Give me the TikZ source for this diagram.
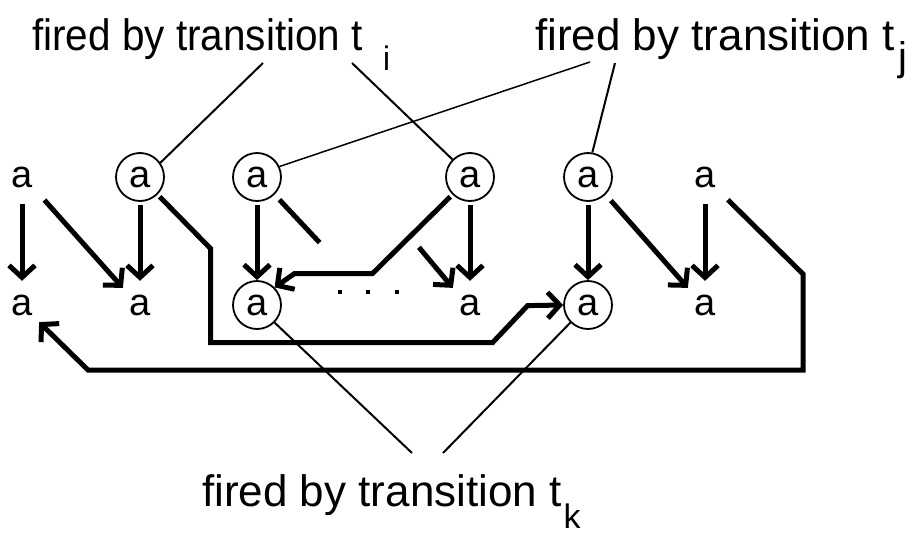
\documentclass[tikz,border=0pt]{standalone}
\usepackage{fontspec}
\setmainfont{Liberation Sans}
\usetikzlibrary{arrows.meta}

\tikzset{
  ringed/.style={circle, draw, line width=1.8pt, minimum size=48pt, inner sep=0pt,
                 font=\fontsize{38}{38}\selectfont},
  bare/.style={circle, minimum size=48pt, inner sep=0pt, font=\fontsize{38}{38}\selectfont},
  fire/.style={line width=5pt, -{Straight Barb[length=12pt,width=26pt]}, shorten <=3pt},
  wire/.style={line width=5pt},
  note/.style={line width=2pt},
  caption/.style={anchor=base west, inner sep=0pt, transform shape, font=\fontsize{44}{44}\selectfont}
}

\begin{document}
\begin{tikzpicture}[x=1pt, y=-1pt]
\useasboundingbox (0,0) rectangle (915,538);
% Captions
    \node[caption, xscale=0.92] (fi) at (32,50) {fired by transition t\hspace{22pt}\raisebox{-20pt}{\fontsize{34}{34}\selectfont i}};
    \node[caption] (fj) at (535,50) {fired by transition t\hspace{4pt}\raisebox{-20pt}{\fontsize{40}{40}\selectfont j}};
    \node[caption] (fk) at (202,506) {fired by transition t\hspace{2pt}\raisebox{-22pt}{\fontsize{34}{34}\selectfont k}};
    \coordinate (fi1) at (263,63);
    \coordinate (fi2) at (352,63);
    \coordinate (fj1) at (590,62);
    \coordinate (fj2) at (615,63);
    \coordinate (fk1) at (412,453);
    \coordinate (fk2) at (443,453);
% Upper row
    \node[bare]   (t1) at (22,177)  {a};
    \node[ringed] (t2) at (140,177) {a};
    \node[ringed] (t3) at (257,177) {a};
    \node[ringed] (t4) at (470,177) {a};
    \node[ringed] (t5) at (588,177) {a};
    \node[bare]   (t6) at (705,177) {a};
% Lower row
    \node[bare]   (b1) at (22,305)  {a};
    \node[bare]   (b2) at (140,305) {a};
    \node[ringed] (b3) at (257,305) {a};
    \node[bare]   (b4) at (470,305) {a};
    \node[ringed] (b5) at (588,305) {a};
    \node[bare]   (b6) at (705,305) {a};
    \foreach \x in {340,368,397}
        \fill (\x-2,290) rectangle ++(4,4);
% Moves
    \draw[fire] (t1) -- (b1);
    \draw[fire, shorten <=8pt] (t1.-45) -- (b2.135);
    \draw[fire] (t2) -- (b2);
    \draw[fire] (t3) -- (b3);
    \draw[wire, shorten <=7pt] (t3.-45) -- ++(45,48);
    \coordinate (resume) at (417,245);
    \draw[fire] (resume) -- (b4.135);
    \draw[fire] (t4) -- (b4);
    \draw[fire] (t4.225) -- ++(-80,79) -- ++(-78,0) -- (b3.45);
    \draw[fire] (t2.-45) -- ++(53,54) -- ++(0,94) -- ++(282,0) -- ++(35,-37) -- (b5.west);
    \draw[fire] (t5) -- (b5);
    \draw[fire, shorten <=8pt] (t5.-45) -- (b6.135);
    \draw[fire] (t6) -- (b6);
    \draw[fire, shorten <=8pt] (t6.-45) -- ++(81,80) -- ++(0,96) -- ++(-715,0) -- (b1.-45);
% Pointers from the captions
    \draw[note] (fi1) -- (t2.35);
    \draw[note] (fi2) -- (t4.135);
    \draw[note, line width=1.5pt] (fj1) -- (t3.25);
    \draw[note] (fj2) -- (t5.80);
    \draw[note] (b3.-45) -- (fk1);
    \draw[note] (b5.225) -- (fk2);
\end{tikzpicture}
\end{document}
